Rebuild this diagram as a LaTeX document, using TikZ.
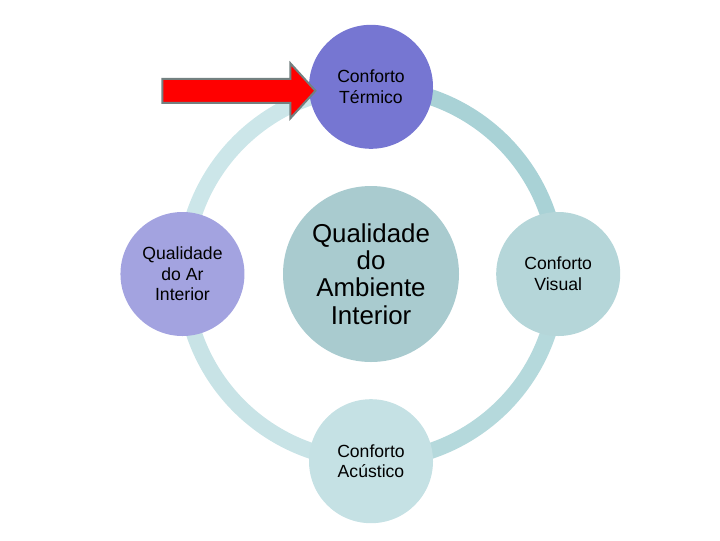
\documentclass[tikz,border=0pt]{standalone}
\usepackage{fontspec}
\setmainfont{Liberation Sans}
\usetikzlibrary{positioning}

\definecolor{termicoblue}{HTML}{7676D2}
\definecolor{arblue}{HTML}{A3A3E0}
\definecolor{hubteal}{HTML}{A9CBCF}
\definecolor{visualteal}{HTML}{B5D6D9}
\definecolor{acusticoteal}{HTML}{C5E1E4}
\definecolor{ringA}{HTML}{CCE6E9}
\definecolor{ringB}{HTML}{A9D2D6}
\definecolor{ringC}{HTML}{B5D9DC}
\definecolor{ringD}{HTML}{C8E3E6}

\begin{document}
\begin{tikzpicture}[
    node distance=27.5pt,
    satellite/.style={
        circle,
        align=center,
        minimum size=93pt,
        inner sep=2pt,
        font=\fontsize{13.2}{15.5}\selectfont
    },
    hubnode/.style={
        circle,
        align=center,
        minimum size=132pt,
        inner sep=2pt,
        fill=hubteal,
        font=\fontsize{19.4}{20.6}\selectfont
    },
    ring/.style={line width=12pt, draw=#1}
]
    \useasboundingbox (0,0) rectangle (540pt,-405pt);

    \node[hubnode] (hub) at (278.25pt,-205.5pt) {Qualidade\\do\\Ambiente\\Interior};

    % ring behind the satellites
    \draw[ring=ringA] ([shift={(90:140pt)}]hub.center) arc[start angle=90, end angle=180, radius=140pt];
    \draw[ring=ringB] ([shift={(0:140pt)}]hub.center) arc[start angle=0, end angle=90, radius=140pt];
    \draw[ring=ringC] ([shift={(-90:140pt)}]hub.center) arc[start angle=-90, end angle=0, radius=140pt];
    \draw[ring=ringD] ([shift={(180:140pt)}]hub.center) arc[start angle=180, end angle=270, radius=140pt];

    \node[satellite, fill=termicoblue, above=of hub] (termico) {Conforto\\Térmico};
    \node[satellite, fill=arblue, left=28.5pt of hub] (ar) {Qualidade\\do Ar\\Interior};
    \node[satellite, fill=visualteal, right=of hub] (visual) {Conforto\\Visual};
    \node[satellite, fill=acusticoteal, below=of hub] (acustico) {Conforto\\Acústico};

    % red pointer at Conforto Termico
    \coordinate (tip) at ([xshift=5pt, yshift=-3pt]termico.west);
    \draw[fill=red, draw=gray!90!teal, line width=1.5pt, line join=miter]
        (tip) -- ++(-18.75pt,20.6pt) -- ++(0,-11.6pt) -- ++(-96pt,0)
        -- ++(0,-18pt) -- ++(96pt,0) -- ++(0,-11.6pt) -- cycle;
\end{tikzpicture}
\end{document}
